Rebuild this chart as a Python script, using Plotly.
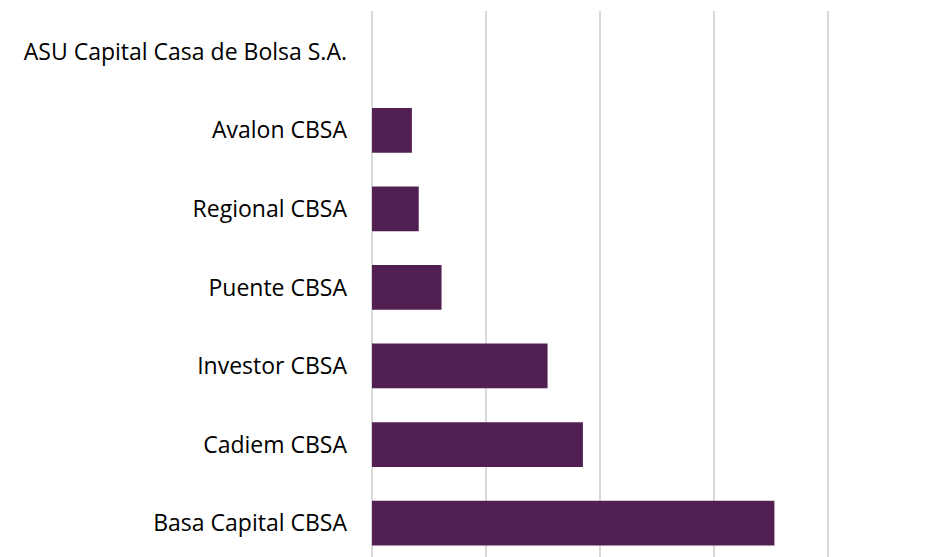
import plotly.graph_objects as go

categories = ["Basa Capital CBSA", "Cadiem CBSA", "Investor CBSA", "Puente CBSA",
              "Regional CBSA", "Avalon CBSA", "ASU Capital Casa de Bolsa S.A."]
values = [3.53, 1.85, 1.54, 0.61, 0.41, 0.35, 0.0]

fig = go.Figure(go.Bar(
    x=values, y=categories, orientation="h",
    marker=dict(color="#521F52", line=dict(width=0)),
    width=0.57,
))

fig.update_layout(
    width=927, height=557,
    margin=dict(l=364, r=50, t=3, b=0),
    paper_bgcolor="white", plot_bgcolor="white",
    showlegend=False,
    font=dict(family="Open Sans", size=23, color="#000000"),
)
fig.update_xaxes(range=[0, 4.5], dtick=1, showticklabels=False,
                 showgrid=True, gridcolor="#D9D9D9", gridwidth=1.5,
                 zeroline=True, zerolinecolor="#D9D9D9", zerolinewidth=1.5,
                 showline=False, fixedrange=True)
fig.update_yaxes(range=[-0.534, 6.52], showgrid=False, showline=False, ticks="",
                 ticklabelstandoff=24, tickfont=dict(family="Open Sans", size=23, color="#000000"),
                 automargin=False, fixedrange=True)

fig.write_html("out.html")
